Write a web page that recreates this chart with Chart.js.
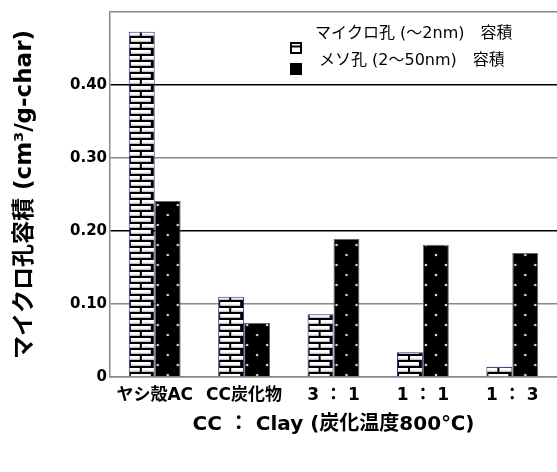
<!DOCTYPE html>
<html>
<head>
<meta charset="utf-8">
<script src="https://cdn.jsdelivr.net/npm/chart.js@4.4.0/dist/chart.umd.min.js"></script>
<style>
  html, body { margin: 0; padding: 0; background: #fff; }
</style>
</head>
<body>
<canvas id="myChart" width="557" height="472"></canvas>
<script>
const categories = ['ヤシ殻AC', 'CC炭化物', '3 ： 1', '1 ： 1', '1 ： 3'];
const microLabel = 'マイクロ孔 (〜2nm)　容積';
const mesoLabel = 'メソ孔 (2〜50nm)　容積';
const microValues = [0.473, 0.110, 0.086, 0.034, 0.014];
const mesoValues = [0.241, 0.074, 0.189, 0.181, 0.170];
const yMax = 0.5;
const yStep = 0.1;

const fam = '"DejaVu Sans", "Noto Sans CJK JP", sans-serif';
const groupPct = 0.58;

// brick fill for micro pore bars
function brickPattern() {
  const c = document.createElement('canvas');
  c.width = 24; c.height = 12;
  const g = c.getContext('2d');
  g.fillStyle = '#000';
  g.fillRect(0, 0, 24, 12);
  function brick(x, y, w, h) {
    g.fillStyle = '#fff';
    g.fillRect(x, y, w, h);
    g.fillStyle = '#c4c4c4';
    g.fillRect(x, y + h - 1.3, w, 1.3);
  }
  brick(2, 2, 20, 4);
  brick(0, 8, 11, 4);
  brick(13, 8, 11, 4);
  return g.createPattern(c, 'repeat');
}

// dotted black fill for meso pore bars
function dotPattern() {
  const c = document.createElement('canvas');
  c.width = 20; c.height = 20;
  const g = c.getContext('2d');
  g.fillStyle = '#000';
  g.fillRect(0, 0, 20, 20);
  g.fillStyle = '#ddd';
  g.beginPath(); g.arc(3, 5, 1.3, 0, Math.PI * 2); g.fill();
  g.beginPath(); g.arc(13, 15, 1.3, 0, Math.PI * 2); g.fill();
  return g.createPattern(c, 'repeat');
}

// line the pattern up with the left edge of each bar
function barFill(make, side) {
  return function (c) {
    const p = make();
    const sx = c.chart.scales ? c.chart.scales.x : null;
    if (sx && sx.width) {
      const half = sx.width / categories.length * groupPct / 2;
      const left = sx.getPixelForValue(c.dataIndex) - (side === 0 ? half : 0);
      p.setTransform(new DOMMatrix().translate(left, 0));
    }
    return p;
  };
}

const legendBox = {
  id: 'legendBox',
  afterDraw(chart) {
    const g = chart.ctx;
    g.save();
    g.font = '16px ' + fam;
    g.fillStyle = '#000';
    g.textBaseline = 'middle';
    g.fillText(microLabel, 315, 34);
    g.fillText(mesoLabel, 319, 61);
    // micro icon
    g.fillStyle = '#fff';
    g.fillRect(291, 43, 10, 10);
    g.strokeStyle = '#000';
    g.lineWidth = 2;
    g.strokeRect(291, 43, 10, 10);
    g.beginPath(); g.moveTo(291, 46.5); g.lineTo(301, 46.5); g.stroke();
    // meso icon
    g.fillStyle = '#000';
    g.fillRect(290, 63, 12, 12);
    g.restore();
  }
};

const ctx = document.getElementById('myChart');
new Chart(ctx, {
  type: 'bar',
  data: {
    labels: categories,
    datasets: [{
      label: microLabel,
      data: microValues,
      backgroundColor: barFill(brickPattern, 0),
      borderColor: '#2b2b8a',
      borderWidth: 1
    }, {
      label: mesoLabel,
      data: mesoValues,
      backgroundColor: barFill(dotPattern, 1),
      borderColor: '#666',
      borderWidth: 1
    }]
  },
  options: {
    responsive: false,
    animation: false,
    layout: { padding: { top: 12, right: 0, bottom: 35, left: 0 } },
    plugins: { legend: { display: false }, tooltip: { enabled: false } },
    datasets: { bar: { categoryPercentage: groupPct, barPercentage: 1 } },
    scales: {
      x: {
        grid: { display: false, drawTicks: false },
        border: { color: '#888', width: 1.5 },
        ticks: {
          color: '#000', maxRotation: 0, autoSkip: false, padding: 8,
          font: { family: fam, size: 17, weight: 'bold' }
        },
        title: {
          display: true, text: 'CC ： Clay (炭化温度800℃)', color: '#000', padding: 0,
          font: { family: fam, size: 20, weight: 'bold' }
        },
        afterFit: s => { s.height = 60; }
      },
      y: {
        min: 0, max: yMax,
        ticks: {
          stepSize: yStep, color: '#000', padding: 3,
          font: { family: fam, size: 15, weight: 'bold' },
          callback: v => v === 0 ? '0' : (Math.round(v * 10) >= 5 ? '' : v.toFixed(2))
        },
        grid: {
          drawTicks: false, lineWidth: 1.5,
          color: c => {
            const k = Math.round(c.tick.value * 10);
            return (k === 2 || k === 4) ? '#000' : '#888';
          }
        },
        border: { color: '#888', width: 1.5 },
        title: {
          display: true, text: 'マイクロ孔容積 (cm³/g-char)', color: '#000',
          padding: { top: 11, bottom: 0 },
          font: { family: fam, size: 23, weight: 'bold' }
        },
        afterFit: s => { s.width = 110; }
      }
    }
  },
  plugins: [legendBox]
});
</script>
</body>
</html>
